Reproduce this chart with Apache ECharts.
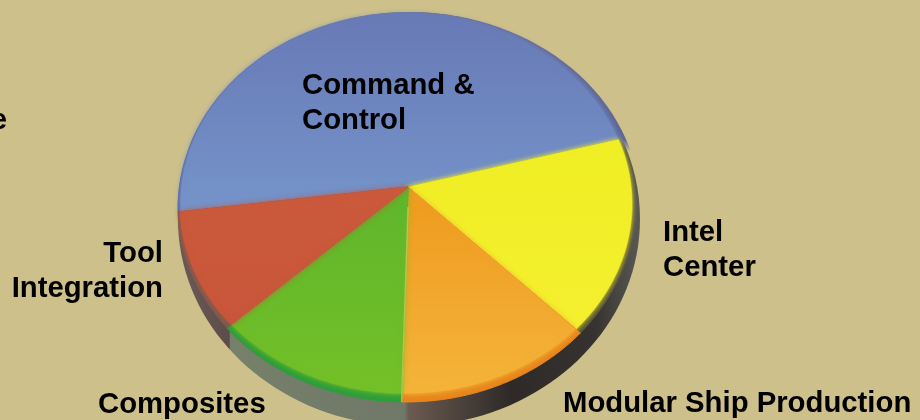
<!DOCTYPE html>
<html>
<head>
<meta charset="utf-8">
<style>
html, body { margin: 0; padding: 0; background: #cdc08a; }
#chart { width: 920px; height: 420px; }
</style>
<script src="https://cdn.jsdelivr.net/npm/echarts@6/dist/echarts.min.js"></script>
</head>
<body>
<div id="chart"></div>
<script>
// slices clockwise from the blue one, shares (percent of the turn around the apex)
const categories = ['Command &\nControl', 'Intel\nCenter', 'Modular Ship Production', 'Composites', 'Tool\nIntegration'];
const shares = [48.2, 14.7, 14.3, 14.0, 8.8];
const startBearing = 263.8;

const sliceTop = ['#6879b6', '#f0ee24', '#ee9a1e', '#5fb52c', '#cb5a3c'];
const sliceBottom = ['#7594ca', '#f4f030', '#f4b43a', '#74c028', '#c9563a'];
const lipColors = ['#565f96', '#5a5636', '#e8861c', '#2f9e3a', '#7a5a50'];

const apex = [408, 187];
const face = { cx: 406, cy: 204, rx: 226, ry: 190 };
const lip = { cx: 406, cy: 208, rx: 228, ry: 194 };

// where the ray from the apex at this bearing leaves the ellipse
function edgePoint(bearing, e) {
    const rad = bearing * Math.PI / 180;
    const dx = Math.sin(rad) / e.rx, dy = -Math.cos(rad) / e.ry;
    const px = (apex[0] - e.cx) / e.rx, py = (apex[1] - e.cy) / e.ry;
    const a = dx * dx + dy * dy, b = 2 * (px * dx + py * dy), c = px * px + py * py - 1;
    const t = (-b + Math.sqrt(b * b - 4 * a * c)) / (2 * a);
    return [apex[0] + t * Math.sin(rad), apex[1] - t * Math.cos(rad)];
}

function slicePoints(from, sweep, e) {
    const pts = [apex];
    for (let i = 0; i <= 80; i++) pts.push(edgePoint(from + sweep * i / 80, e));
    return pts;
}

function renderSlice(params, api) {
    const i = params.dataIndex;
    let from = startBearing;
    for (let k = 0; k < i; k++) from += shares[k] * 3.6;
    const sweep = api.value(0) * 3.6;
    const children = [
        { type: 'polygon', shape: { points: slicePoints(from, sweep, lip) },
          style: { fill: lipColors[i], stroke: lipColors[i], lineWidth: 1 } },
        { type: 'polygon', shape: { points: slicePoints(from, sweep, face) },
          style: {
              fill: new echarts.graphic.LinearGradient(0, 0, 0, 1, [
                  { offset: 0, color: sliceTop[i] },
                  { offset: 1, color: sliceBottom[i] }
              ]),
              stroke: sliceTop[i], lineWidth: 0.6,
              shadowColor: sliceBottom[i], shadowBlur: 5
          } }
    ];
    if (i === 3) {
        // pale seam between orange and green
        const end = edgePoint(from, lip);
        children.push({ type: 'line', shape: { x1: apex[0], y1: apex[1] + 20, x2: end[0], y2: end[1] },
            style: { stroke: '#cfcf5a', lineWidth: 1.4, opacity: 0.7 } });
    }
    return { type: 'group', children };
}

const myChart = echarts.init(document.getElementById('chart'));

const labelFont = { fontFamily: 'Liberation Sans', fontWeight: 'bold', fontSize: 29.3, lineHeight: 35, fill: '#000' };

const option = {
    animation: false,
    backgroundColor: '#cdc08a',
    graphic: [
        {
            type: 'ellipse', z: 1, silent: true,
            shape: { cx: 409, cy: 219, rx: 231, ry: 207 },
            style: {
                fill: new echarts.graphic.LinearGradient(0, 0, 1, 0, [
                    { offset: 0, color: '#6a5a58' },
                    { offset: 0.111, color: '#5e4c4a' },
                    { offset: 0.113, color: '#76806a' },
                    { offset: 0.49, color: '#707868' },
                    { offset: 0.5, color: '#6b5a50' },
                    { offset: 0.72, color: '#2e2a28' },
                    { offset: 0.9, color: '#35322f' },
                    { offset: 1, color: '#5a5854' }
                ])
            }
        },
        {
            type: 'ellipse', z: 1, silent: true,
            shape: { cx: 409, cy: 206, rx: 231, ry: 194 },
            style: {
                fill: new echarts.graphic.LinearGradient(0, 0, 0, 1, [
                    { offset: 0, color: '#6a6c9c' },
                    { offset: 0.33, color: '#5d6796' },
                    { offset: 0.36, color: 'rgba(93,103,150,0)' }
                ])
            }
        },
        { type: 'text', z: 10, x: 302, y: 68, style: Object.assign({ text: categories[0], textAlign: 'left' }, labelFont) },
        { type: 'text', z: 10, x: 663, y: 215, style: Object.assign({ text: categories[1], textAlign: 'left' }, labelFont) },
        { type: 'text', z: 10, x: 563, y: 386, style: Object.assign({ text: categories[2], textAlign: 'left' }, labelFont) },
        { type: 'text', z: 10, x: 98, y: 387, style: Object.assign({ text: categories[3], textAlign: 'left' }, labelFont) },
        { type: 'text', z: 10, x: 163, y: 236, style: Object.assign({ text: categories[4], textAlign: 'right' }, labelFont) },
        // word cut off by the left edge of the picture, only its last letter shows
        { type: 'text', z: 10, x: 7, y: 103, style: Object.assign({ text: 'e', textAlign: 'right' }, labelFont) }
    ],
    series: [
        {
            type: 'custom',
            coordinateSystem: 'none',
            silent: true,
            z: 2,
            data: shares.map((v, i) => ({ name: categories[i], value: [v] })),
            renderItem: renderSlice
        }
    ]
};
myChart.setOption(option);
</script>
</body>
</html>
